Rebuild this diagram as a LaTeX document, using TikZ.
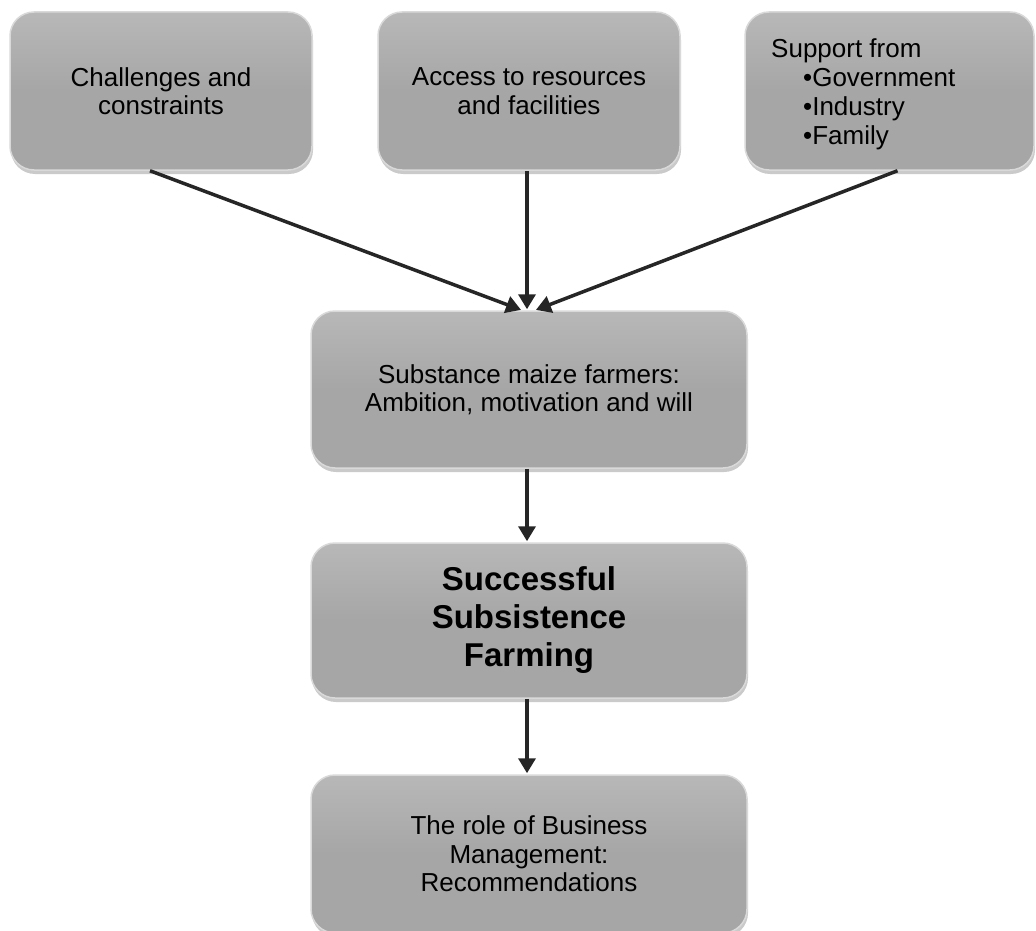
\documentclass[tikz,border=0pt]{standalone}
\usepackage{fontspec}
\setmainfont{Liberation Sans}
\usetikzlibrary{arrows.meta,shadows,calc}
\definecolor{boxgray}{HTML}{A6A6A6}
\definecolor{boxedge}{HTML}{D9D9D9}
\definecolor{arrowcol}{HTML}{262626}
\begin{document}
\begin{tikzpicture}[x=1pt,y=-1pt,
  box/.style={rectangle, rounded corners=24pt, fill=boxgray, draw=boxedge, line width=1.5pt,
    top color=boxgray!80!white, bottom color=boxgray, middle color=boxgray,
    drop shadow={shadow xshift=1pt, shadow yshift=-4pt, opacity=0.35, fill=black!60},
    align=center, inner sep=0pt, font=\fontsize{26}{28.5}\selectfont},
  conn/.style={draw=arrowcol, line width=3.5pt, -{Triangle[length=15pt,width=17pt]}, shorten >=1pt}
]
\useasboundingbox (0,0) rectangle (1036,931);
\node[box, minimum width=302pt, minimum height=158pt] (b1) at (161,91) {Challenges and\\constraints};
\node[box, minimum width=302pt, minimum height=158pt] (b2) at (529,91) {Access to resources\\and facilities};
\node[box, minimum width=289pt, minimum height=158pt] (b3) at (889.5,91) {};
\node[anchor=north west, align=left, inner sep=0pt, font=\fontsize{26}{29.2}\selectfont] (t3) at (771,38)
  {Support from\\\hspace*{32pt}•Government\\\hspace*{32pt}•Industry\\\hspace*{32pt}•Family};
\node[box, minimum width=436pt, minimum height=157pt] (m) at (529,389.5) {Substance maize farmers:\\Ambition, motivation and will};
\node[box, minimum width=436pt, minimum height=155pt, font=\bfseries\fontsize{33}{38}\selectfont] (s) at (529,620.5) {Successful\\Subsistence\\Farming};
\node[box, minimum width=436pt, minimum height=158pt] (r) at (529,854) {The role of Business\\Management:\\Recommendations};
\draw[conn] ([xshift=-11pt]b1.south) -- ([xshift=-7pt]m.north);
\draw[conn] ([xshift=-2pt]b2.south) -- ([xshift=-2pt]m.north);
\draw[conn] ([xshift=8pt]b3.south) -- ([xshift=6pt]m.north);
\draw[conn] ([xshift=-2pt]m.south) -- ([xshift=-2pt]s.north);
\draw[conn] ([xshift=-2pt]s.south) -- ([xshift=-2pt]r.north);
\end{tikzpicture}
\end{document}
